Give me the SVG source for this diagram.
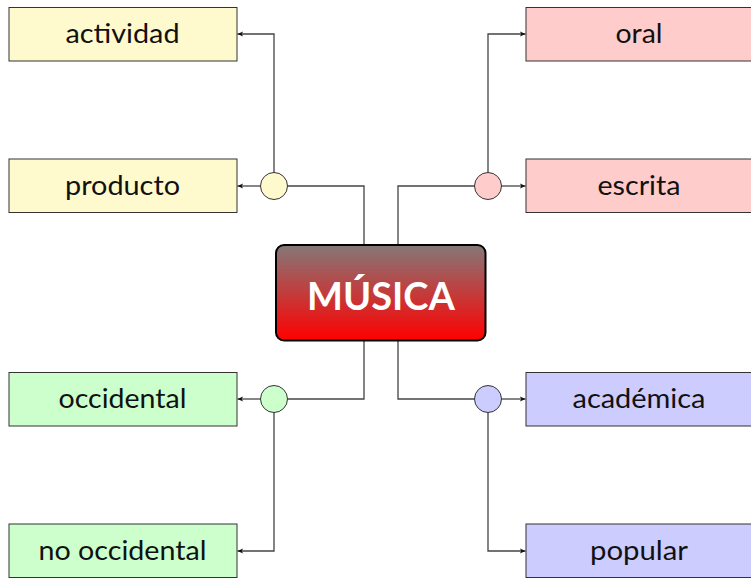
<svg xmlns="http://www.w3.org/2000/svg" width="751" height="578" viewBox="0 0 751 578">
<style>
.box{stroke:#333;stroke-width:1}
.lbl{font-family:Lato,"Liberation Sans",sans-serif;font-size:26px;fill:#111;text-anchor:middle}
.conn{fill:none;stroke:#444;stroke-width:1.3}
.dot{stroke:#333;stroke-width:1}
.y{fill:#FFFACD}.r{fill:#FFCCCC}.g{fill:#CCFFCC}.b{fill:#CCCCFF}
</style>
<defs>
<linearGradient id="cg" x1="0" y1="0" x2="0" y2="1">
<stop offset="0" stop-color="#857878"/>
<stop offset="1" stop-color="#ff0000"/>
</linearGradient>
<marker id="ar" viewBox="0 0 10 10" refX="9" refY="5" markerWidth="7" markerHeight="7" markerUnits="userSpaceOnUse" orient="auto">
<path d="M1,1.5 L9,5 L1,8.5 L3,5 Z" fill="#111"/>
</marker>
</defs>
<g id="connectors">
<path class="conn" d="M364,245 V186 H287.5"/>
<path class="conn" d="M260.5,186 H237.5" marker-end="url(#ar)"/>
<path class="conn" d="M274,172.5 V34 H237.5" marker-end="url(#ar)"/>
<path class="conn" d="M398,245 V186 H474.5"/>
<path class="conn" d="M501.5,186 H525.5" marker-end="url(#ar)"/>
<path class="conn" d="M488,172.5 V34 H525.5" marker-end="url(#ar)"/>
<path class="conn" d="M364,341 V399 H287.5"/>
<path class="conn" d="M260.5,399 H237.5" marker-end="url(#ar)"/>
<path class="conn" d="M274,412.5 V551 H237.5" marker-end="url(#ar)"/>
<path class="conn" d="M398,341 V399 H474.5"/>
<path class="conn" d="M501.5,399 H525.5" marker-end="url(#ar)"/>
<path class="conn" d="M488,412.5 V551 H525.5" marker-end="url(#ar)"/>
</g>
<g id="musica">
<rect x="276" y="245" width="209.5" height="95.5" rx="8" fill="url(#cg)" stroke="#000" stroke-width="2"/>
<text x="381" y="310" font-family="Lato,'Liberation Sans',sans-serif" font-weight="bold" font-size="38" fill="#fff" text-anchor="middle">MÚSICA</text>
</g>
<g id="actividad"><rect class="box y" x="9" y="7.5" width="228" height="53.5"/><text class="lbl" x="122.5" y="43.3" textLength="114" lengthAdjust="spacingAndGlyphs">actividad</text></g>
<g id="producto"><rect class="box y" x="9" y="159" width="228" height="53.5"/><text class="lbl" x="122.5" y="194.5" textLength="115" lengthAdjust="spacingAndGlyphs">producto</text></g>
<g id="occidental"><rect class="box g" x="9" y="372.5" width="228" height="53.5"/><text class="lbl" x="122.5" y="408.3" textLength="128" lengthAdjust="spacingAndGlyphs">occidental</text></g>
<g id="no-occidental"><rect class="box g" x="9" y="524" width="228" height="53.5"/><text class="lbl" x="122.5" y="560" textLength="168" lengthAdjust="spacingAndGlyphs">no occidental</text></g>
<g id="oral"><rect class="box r" x="526" y="7.5" width="226" height="53.5"/><text class="lbl" x="639" y="43.3" textLength="47" lengthAdjust="spacingAndGlyphs">oral</text></g>
<g id="escrita"><rect class="box r" x="526" y="159" width="226" height="53.5"/><text class="lbl" x="639" y="194.5" textLength="83" lengthAdjust="spacingAndGlyphs">escrita</text></g>
<g id="academica"><rect class="box b" x="526" y="372.5" width="226" height="53.5"/><text class="lbl" x="639" y="408.3" textLength="133" lengthAdjust="spacingAndGlyphs">académica</text></g>
<g id="popular"><rect class="box b" x="526" y="524" width="226" height="53.5"/><text class="lbl" x="639" y="560" textLength="98" lengthAdjust="spacingAndGlyphs">popular</text></g>
<g id="hub-producto"><circle class="dot y" cx="274" cy="186" r="13.5"/></g>
<g id="hub-escrita"><circle class="dot r" cx="488" cy="186" r="13.5"/></g>
<g id="hub-occidental"><circle class="dot g" cx="274" cy="399" r="13.5"/></g>
<g id="hub-academica"><circle class="dot b" cx="488" cy="399" r="13.5"/></g>
</svg>
